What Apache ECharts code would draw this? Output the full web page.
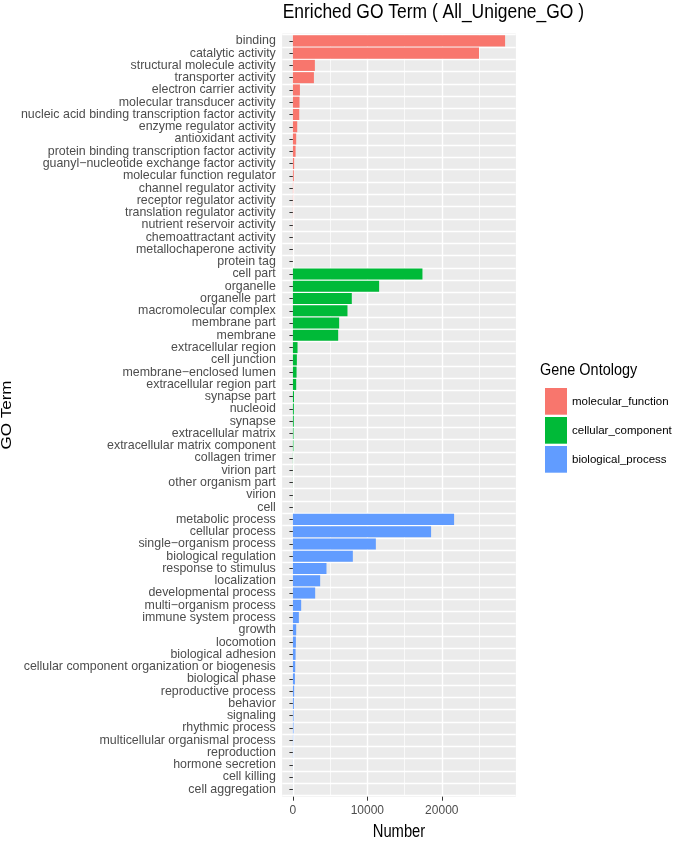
<!DOCTYPE html>
<html>
<head>
<meta charset="utf-8">
<script src="https://cdn.jsdelivr.net/npm/echarts@6/dist/echarts.min.js"></script>
<style>html,body{margin:0;padding:0;background:#fff;}#c{width:675px;height:841px;}</style>
</head>
<body>
<div id="c"></div>
<script>
const mfTerms = ['binding','catalytic activity','structural molecule activity','transporter activity','electron carrier activity','molecular transducer activity','nucleic acid binding transcription factor activity','enzyme regulator activity','antioxidant activity','protein binding transcription factor activity','guanyl\u2212nucleotide exchange factor activity','molecular function regulator','channel regulator activity','receptor regulator activity','translation regulator activity','nutrient reservoir activity','chemoattractant activity','metallochaperone activity','protein tag'];
const mfValues = [28500,25000,2950,2820,940,890,850,580,440,360,170,120,40,30,25,15,8,5,3];
const ccTerms = ['cell part','organelle','organelle part','macromolecular complex','membrane part','membrane','extracellular region','cell junction','membrane\u2212enclosed lumen','extracellular region part','synapse part','nucleoid','synapse','extracellular matrix','extracellular matrix component','collagen trimer','virion part','other organism part','virion','cell'];
const ccValues = [17400,11580,7910,7330,6210,6080,620,530,490,440,150,130,120,80,70,20,10,8,6,4];
const bpTerms = ['metabolic process','cellular process','single\u2212organism process','biological regulation','response to stimulus','localization','developmental process','multi\u2212organism process','immune system process','growth','locomotion','biological adhesion','cellular component organization or biogenesis','biological phase','reproductive process','behavior','signaling','rhythmic process','multicellular organismal process','reproduction','hormone secretion','cell killing','cell aggregation'];
const bpValues = [21650,18560,11140,8050,4510,3660,2990,1110,800,440,400,360,310,270,170,130,90,80,40,30,10,8,4];
const groupNames = ['molecular_function','cellular_component','biological_process'];
const groupColors = ['#F8766D','#00BA38','#619CFF'];
const xMajorTicks = [0,10000,20000];
const xMinorTicks = [5000,15000,25000];

const FONT = "'Liberation Sans',Arial,sans-serif";
const categories = mfTerms.concat(ccTerms, bpTerms);
const groups = [mfValues, ccValues, bpValues];
let offset = 0;
const series = groups.map((vals, gi) => {
  const data = categories.map(() => '-');
  vals.forEach((v, i) => { data[offset + i] = v; });
  offset += vals.length;
  return {
    name: groupNames[gi], type: 'bar', stack: 'all', barWidth: '90%',
    itemStyle: {color: groupColors[gi]}, data: data, xAxisIndex: 0
  };
});
const dataMax = Math.max.apply(null, mfValues.concat(ccValues, bpValues));
const xMin = -0.05 * dataMax, xMax = 1.05 * dataMax;

// panel (grey background) extent and ggplot-like 0.6-unit discrete expansion
const panelL = 282.3, panelR = 515.7, panelT = 33.5, panelB = 796.7;
const pitch = (panelB - panelT) / (categories.length + 0.2);
const gridT = panelT + 0.1 * pitch, gridB = panelB - 0.1 * pitch;

const chart = echarts.init(document.getElementById('c'), null, {renderer: 'canvas'});
chart.setOption({
  animation: false,
  backgroundColor: '#ffffff',
  grid: {left: panelL, right: 675 - panelR, top: gridT, bottom: 841 - gridB, show: true, backgroundColor: '#EBEBEB', borderWidth: 0, containLabel: false, outerBoundsMode: 'none'},
  xAxis: [{
    type: 'value', min: xMin, max: xMax, position: 'bottom', offset: 0.1 * pitch,
    axisLine: {show: false},
    axisTick: {show: true, customValues: xMajorTicks, length: 4, lineStyle: {color: '#333333', width: 1}},
    axisLabel: {customValues: xMajorTicks, color: '#4D4D4D', fontFamily: FONT, fontSize: 12, margin: 8, formatter: v => String(v)},
    splitLine: {show: true, lineStyle: {color: '#FFFFFF', width: 1.4}}
  }, {
    type: 'value', min: xMin, max: xMax, position: 'top', show: true,
    axisLine: {show: false},
    axisTick: {show: false, customValues: xMinorTicks},
    axisLabel: {show: false, customValues: xMinorTicks},
    splitLine: {show: true, lineStyle: {color: '#FFFFFF', width: 0.7}}
  }],
  yAxis: {
    type: 'category', data: categories, inverse: true,
    axisLine: {show: false},
    axisTick: {show: true, alignWithLabel: true, length: 3.5, lineStyle: {color: '#333333', width: 1}},
    axisLabel: {color: '#4D4D4D', fontFamily: FONT, fontSize: 12.4, margin: 6.5, interval: 0},
    splitLine: {show: true, interval: 0, lineStyle: {color: '#FFFFFF', width: 1.4}}
  },
  legend: {
    orient: 'vertical', left: 540, top: 383, icon: 'rect',
    itemWidth: 22, itemHeight: 26.7, itemGap: 2.3,
    textStyle: {color: '#000000', fontFamily: FONT, fontSize: 11.5},
    data: groupNames
  },
  graphic: [
    {type: 'rect', z: -100, silent: true, shape: {x: panelL, y: panelT, width: panelR - panelL, height: panelB - panelT}, style: {fill: '#EBEBEB'}},
    {type: 'text', x: 282.7, y: 12.8, scaleX: 0.855, style: {text: 'Enriched GO Term ( All_Unigene_GO )', x: 0, y: 0, align: 'left', verticalAlign: 'middle', font: "20.4px 'Liberation Sans',Arial,sans-serif", fill: '#000000'}},
    {type: 'text', x: 540, y: 370, scaleX: 0.85, style: {text: 'Gene Ontology', x: 0, y: 0, align: 'left', verticalAlign: 'middle', font: "17px 'Liberation Sans',Arial,sans-serif", fill: '#000000'}},
    {type: 'text', x: 399, y: 831.7, scaleX: 0.82, style: {text: 'Number', x: 0, y: 0, align: 'center', verticalAlign: 'middle', font: "18px 'Liberation Sans',Arial,sans-serif", fill: '#000000'}},
    {type: 'text', x: 7.5, y: 415, rotation: Math.PI / 2, scaleY: 0.85, style: {text: 'GO Term', x: 0, y: 0, align: 'center', verticalAlign: 'middle', font: "17px 'Liberation Sans',Arial,sans-serif", fill: '#000000'}}
  ],
  series: series
});
</script>
</body>
</html>
